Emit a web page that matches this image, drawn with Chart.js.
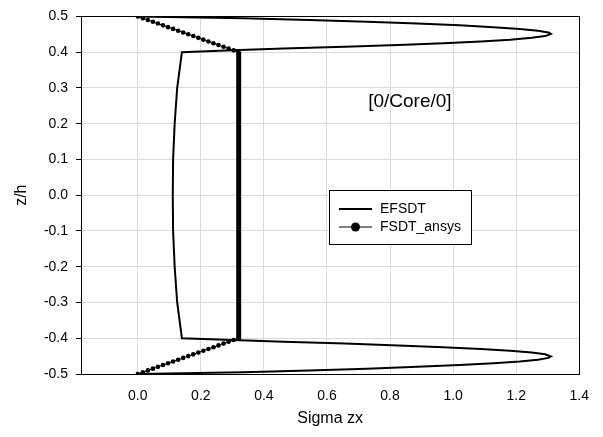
<!DOCTYPE html>
<html>
<head>
<meta charset="utf-8">
<script src="https://cdn.jsdelivr.net/npm/chart.js@4.4.1/dist/chart.umd.min.js"></script>
<style>
  html, body { margin: 0; padding: 0; background: #fff; }
  #wrap { width: 603px; height: 437px; }
</style>
</head>
<body>
<div id="wrap"><canvas id="chart" width="603" height="437"></canvas></div>
<script>
// EFSDT profile (z/h, Sigma zx)
const efsdtZ = [0.5, 0.495, 0.49, 0.485, 0.48, 0.475, 0.47, 0.465, 0.46, 0.455, 0.451,
                0.445, 0.44, 0.435, 0.43, 0.425, 0.42, 0.415, 0.41, 0.405, 0.4,
                0.3, 0.2, 0.1, 0.0, -0.1, -0.2, -0.3,
                -0.4, -0.405, -0.41, -0.415, -0.42, -0.425, -0.43, -0.435, -0.44, -0.445,
                -0.451, -0.455, -0.46, -0.465, -0.47, -0.475, -0.48, -0.485, -0.49, -0.495, -0.5];
const efsdtX = [0.0, 0.334, 0.543, 0.727, 0.886, 1.02, 1.128, 1.211, 1.269, 1.302, 1.31,
                1.292, 1.249, 1.181, 1.088, 0.969, 0.826, 0.657, 0.463, 0.3, 0.14,
                0.125, 0.117, 0.112, 0.111, 0.112, 0.117, 0.125,
                0.14, 0.3, 0.463, 0.657, 0.826, 0.969, 1.088, 1.181, 1.249, 1.292,
                1.31, 1.302, 1.269, 1.211, 1.128, 1.02, 0.886, 0.727, 0.543, 0.334, 0.0];

// FSDT_ansys profile
const ansysZ = [0.5, 0.495, 0.49, 0.485, 0.48, 0.475, 0.47, 0.465, 0.46, 0.455, 0.45,
                0.445, 0.44, 0.435, 0.43, 0.425, 0.42, 0.415, 0.41, 0.405, 0.4,
                -0.4, -0.405, -0.41, -0.415, -0.42, -0.425, -0.43, -0.435, -0.44, -0.445,
                -0.45, -0.455, -0.46, -0.465, -0.47, -0.475, -0.48, -0.485, -0.49, -0.495, -0.5];
const ansysX = [0.0, 0.016, 0.032, 0.048, 0.064, 0.08, 0.096, 0.112, 0.128, 0.144, 0.16,
                0.176, 0.192, 0.208, 0.224, 0.24, 0.256, 0.272, 0.288, 0.304, 0.32,
                0.32, 0.304, 0.288, 0.272, 0.256, 0.24, 0.224, 0.208, 0.192, 0.176,
                0.16, 0.144, 0.128, 0.112, 0.096, 0.08, 0.064, 0.048, 0.032, 0.016, 0.0];

const seriesNames = ["EFSDT", "FSDT_ansys"];
const xTicks = [0.0, 0.2, 0.4, 0.6, 0.8, 1.0, 1.2, 1.4];
const yTicks = [-0.5, -0.4, -0.3, -0.2, -0.1, 0.0, 0.1, 0.2, 0.3, 0.4, 0.5];
const layupLabel = "[0/Core/0]";

const FONT = "'Liberation Sans', Arial, sans-serif";

function toPoints(xs, zs) {
    return xs.map(function (x, i) { return { x: x, y: zs[i] }; });
}

const frameAndText = {
    id: 'frameAndText',
    afterDraw: function (chart) {
        const ctx = chart.ctx;
        const a = chart.chartArea;
        ctx.save();
        // plot area border
        ctx.strokeStyle = '#000';
        ctx.lineWidth = 1;
        ctx.strokeRect(Math.round(a.left) + 0.5, Math.round(a.top) + 0.5,
            Math.round(a.right - a.left), Math.round(a.bottom - a.top));

        // layup label
        ctx.fillStyle = '#000';
        ctx.font = "19px " + FONT;
        ctx.textAlign = 'center';
        ctx.textBaseline = 'middle';
        ctx.fillText(layupLabel, chart.scales.x.getPixelForValue(0.863), chart.scales.y.getPixelForValue(0.262));

        // legend box
        const bx = 329.5, by = 190.5, bw = 142, bh = 54;
        ctx.fillStyle = '#fff';
        ctx.fillRect(bx, by, bw, bh);
        ctx.strokeStyle = '#000';
        ctx.strokeRect(bx, by, bw, bh);

        ctx.lineWidth = 2;
        ctx.beginPath();
        ctx.moveTo(339, 209); ctx.lineTo(372, 209);
        ctx.stroke();
        ctx.lineWidth = 1;
        ctx.beginPath();
        ctx.moveTo(339, 227); ctx.lineTo(372, 227);
        ctx.stroke();
        ctx.fillStyle = '#000';
        ctx.beginPath();
        ctx.arc(355.5, 227, 4.5, 0, Math.PI * 2);
        ctx.fill();

        ctx.font = "14px " + FONT;
        ctx.textAlign = 'left';
        ctx.fillText(seriesNames[0], 380, 209);
        ctx.fillText(seriesNames[1], 380, 227);
        ctx.restore();
    }
};

new Chart("chart", {
    type: "scatter",
    data: {
        datasets: [{
            label: seriesNames[0],
            data: toPoints(efsdtX, efsdtZ),
            showLine: true,
            borderColor: '#000',
            backgroundColor: '#000',
            borderWidth: 2,
            pointRadius: 0,
            tension: 0
        }, {
            label: seriesNames[1],
            data: toPoints(ansysX, ansysZ),
            showLine: true,
            borderColor: '#000',
            backgroundColor: '#000',
            borderWidth: 1,
            pointRadius: 2.3,
            pointBorderWidth: 0,
            tension: 0,
            segment: {
                borderWidth: function (ctx) {
                    return (Math.abs(ctx.p0.parsed.y) <= 0.4 && Math.abs(ctx.p1.parsed.y) <= 0.4) ? 5 : 1;
                }
            }
        }]
    },
    options: {
        responsive: false,
        animation: false,
        layout: { padding: { left: 0, top: 14, right: 20, bottom: 0 } },
        plugins: {
            legend: { display: false },
            tooltip: { enabled: false }
        },
        scales: {
            x: {
                type: 'linear',
                min: -0.18,
                max: 1.4,
                afterBuildTicks: function (scale) {
                    scale.ticks = xTicks.map(function (v) { return { value: v }; });
                },
                afterFit: function (scale) { scale.height = 63; },
                grid: { color: '#d9d9d9', drawTicks: false },
                border: { color: '#000', width: 1 },
                ticks: {
                    color: '#000',
                    padding: 14,
                    font: { family: FONT, size: 14 },
                    callback: function (v) { return Number(v).toFixed(1); }
                },
                title: {
                    display: true,
                    text: 'Sigma zx',
                    color: '#000',
                    font: { family: FONT, size: 16 },
                    padding: { top: 0, bottom: 9 }
                }
            },
            y: {
                type: 'linear',
                min: -0.5,
                max: 0.5,
                afterBuildTicks: function (scale) {
                    scale.ticks = yTicks.map(function (v) { return { value: v }; });
                },
                afterFit: function (scale) { scale.width = 81; },
                grid: { color: '#d9d9d9', drawTicks: true, tickLength: 5, tickColor: '#000' },
                border: { color: '#000', width: 1 },
                ticks: {
                    color: '#000',
                    padding: 8,
                    font: { family: FONT, size: 14 },
                    callback: function (v) {
                        const s = Number(v).toFixed(1);
                        return s === '-0.0' ? '0.0' : s;
                    }
                },
                title: {
                    display: true,
                    text: 'z/h',
                    color: '#000',
                    font: { family: FONT, size: 16 },
                    padding: { top: 12, bottom: 0 }
                }
            }
        }
    },
    plugins: [frameAndText]
});
</script>
</body>
</html>
